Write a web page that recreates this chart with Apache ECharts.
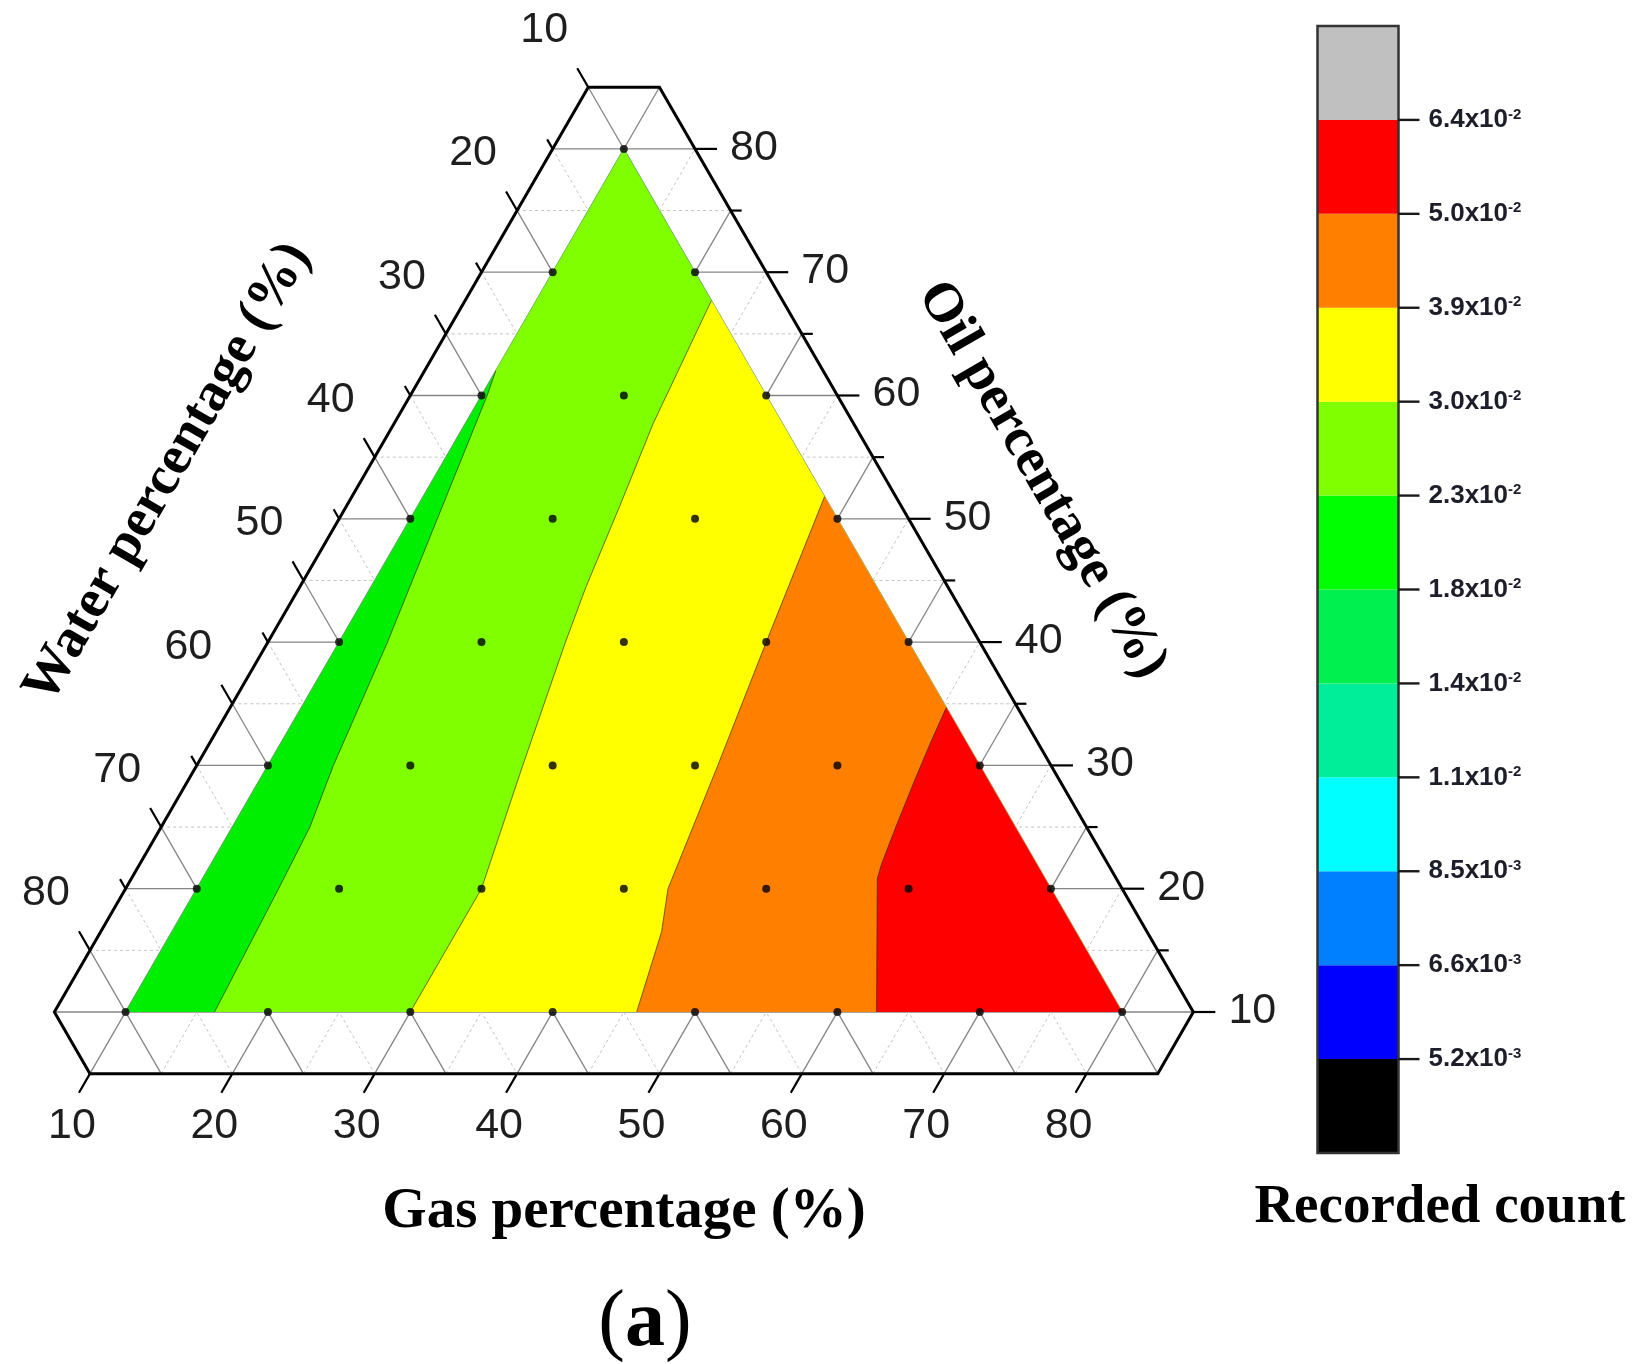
<!DOCTYPE html>
<html><head><meta charset="utf-8">
<script src="https://cdn.jsdelivr.net/npm/echarts@6/dist/echarts.min.js"></script>
<style>html,body{margin:0;padding:0;background:#fff}#c{width:1633px;height:1364px}</style>
</head><body><div id="c"></div>
<script>
// ---------- ternary axes (all values in %) ----------
const majorTicks = [10, 20, 30, 40, 50, 60, 70, 80];
const minorTicks = [15, 25, 35, 45, 55, 65, 75];
const frameMin = 5, frameMax = 85;      // hexagonal frame limits for every component
const dataMin = 10, dataMax = 80;       // sampled triangle
const waterTickLabels = ['10', '20', '30', '40', '50', '60', '70', '80'];
const oilTickLabels = ['10', '20', '30', '40', '50', '60', '70', '80'];
const gasTickLabels = ['10', '20', '30', '40', '50', '60', '70', '80'];

// sample compositions [gas %, oil %]  (water = 100 - gas - oil)
const samplePoints = [
  [10, 80],
  [10, 70], [20, 70],
  [10, 60], [20, 60], [30, 60],
  [10, 50], [20, 50], [30, 50], [40, 50],
  [10, 40], [20, 40], [30, 40], [40, 40], [50, 40],
  [10, 30], [20, 30], [30, 30], [40, 30], [50, 30], [60, 30],
  [10, 20], [20, 20], [30, 20], [40, 20], [50, 20], [60, 20], [70, 20],
  [10, 10], [20, 10], [30, 10], [40, 10], [50, 10], [60, 10], [70, 10], [80, 10]
];

// contour level lines [gas %, oil %]
const contour23 = [[10, 62], [10.4, 60], [11.9, 50], [13.4, 40], [14.6, 30], [15.45, 25], [15.75, 20], [16.25, 10]];   // 2.3e-2
const contour30 = [[22.3, 67.7], [23.2, 57.7], [24.2, 51], [25.1, 44.5], [25.9, 40], [27.9, 30], [30, 20], [30, 10]];  // 3.0e-2
const contour39 = [[38.2, 51.8], [40, 40], [41.6, 30], [43.1, 20], [44.4, 16.5], [45.9, 10]];                         // 3.9e-2
const contour50 = [[55.3, 34.7], [55.6, 32], [56.0, 29], [56.6, 25], [57.1, 22], [57.4, 20.8], [62.75, 10]];          // 5.0e-2
const bandColors = ['#00EE00', '#80FF00', '#FFFF00', '#FF8000', '#FF0000'];

// ---------- colour scale ----------
const levelMantissa = ['5.2', '6.6', '8.5', '1.1', '1.4', '1.8', '2.3', '3.0', '3.9', '5.0', '6.4'];
const levelExponent = ['-3', '-3', '-3', '-2', '-2', '-2', '-2', '-2', '-2', '-2', '-2'];
const levelPositions = [1, 2, 3, 4, 5, 6, 7, 8, 9, 10, 11];
const colorbarColors = ['#000000', '#0000FF', '#0080FF', '#00FFFF', '#00EE99', '#00F050',
  '#00FF00', '#80FF00', '#FFFF00', '#FF8000', '#FF0000', '#C0C0C0'];

// ---------- helpers ----------
const S = Math.sqrt(3) / 2;
function xy(g, o) { return [g + o / 2, o]; }           // ternary -> cartesian data coords
function P(api, g, o) { return api.coord(xy(g, o)); }   // -> pixels through the axes

function layer(items, draw, z) {
  return {
    type: 'custom', coordinateSystem: 'cartesian2d', xAxisIndex: 0, yAxisIndex: 0,
    z: z, silent: true, animation: false,
    data: items.map((_, i) => [i, 0]),
    renderItem: (params, api) => draw(items[params.dataIndex], api)
  };
}

// grid iso-lines (clipped to the hexagon)
const gridSegs = [];
[[majorTicks, true], [minorTicks, false]].forEach(([vals, major]) => {
  vals.forEach(v => {
    gridSegs.push({ a: [frameMin, v], b: [100 - frameMin - v, v], major });          // oil = v
    gridSegs.push({ a: [v, frameMin], b: [v, 100 - frameMin - v], major });          // gas = v
    gridSegs.push({ a: [frameMin, 100 - frameMin - v], b: [100 - frameMin - v, frameMin], major }); // water = v
  });
});

// ticks
const tickItems = [];
majorTicks.forEach(v => {
  tickItems.push({ p: [frameMin, 100 - frameMin - v], d: [-0.5, -S], len: 22 });  // water (left)
  tickItems.push({ p: [100 - frameMin - v, v], d: [1, 0], len: 22 });             // oil (right)
  tickItems.push({ p: [v, frameMin], d: [-0.5, S], len: 22 });                     // gas (bottom)
});
minorTicks.forEach(v => {
  tickItems.push({ p: [frameMin, 100 - frameMin - v], d: [-0.5, -S], len: 11 });
  tickItems.push({ p: [100 - frameMin - v, v], d: [1, 0], len: 11 });
});

// tick labels
const labelItems = [];
majorTicks.forEach((v, i) => {
  labelItems.push({ p: [frameMin, 100 - frameMin - v], off: [-44, -57], t: waterTickLabels[i] });
  labelItems.push({ p: [100 - frameMin - v, v], off: [59, -1], t: oilTickLabels[i] });
  labelItems.push({ p: [v, frameMin], off: [-18, 52], t: gasTickLabels[i] });
});

const inner = 100 - frameMax - frameMin;
const frame = [[frameMin, frameMax], [inner, frameMax], [frameMax, inner], [frameMax, frameMin], [inner, frameMin], [frameMin, inner]];
const A = [dataMin, dataMax], B = [dataMin, dataMin], C = [dataMax, dataMin];
const regions = [
  { pts: [A, B, C], color: bandColors[0] },
  { pts: contour23.concat([C, A]), color: bandColors[1] },
  { pts: contour30.concat([C]), color: bandColors[2] },
  { pts: contour39.concat([C]), color: bandColors[3] },
  { pts: contour50.concat([C]), color: bandColors[4] }
];
const contourLines = [contour23, contour30, contour39, contour50];

const series = [
  layer(gridSegs, (s, api) => {
    const a = P(api, s.a[0], s.a[1]), b = P(api, s.b[0], s.b[1]);
    return { type: 'line', shape: { x1: a[0], y1: a[1], x2: b[0], y2: b[1] },
      style: s.major ? { stroke: '#858585', lineWidth: 1.3 } : { stroke: '#c4c4c4', lineWidth: 1, lineDash: [3, 3] } };
  }, 1),
  layer(regions, (r, api) => ({
    type: 'polygon', shape: { points: r.pts.map(p => P(api, p[0], p[1])) },
    style: { fill: r.color }
  }), 2),
  layer(contourLines, (c, api) => ({
    type: 'polyline', shape: { points: c.map(p => P(api, p[0], p[1])) },
    style: { stroke: 'rgba(40,40,40,0.65)', lineWidth: 1, fill: null }
  }), 3),
  layer([frame], (f, api) => ({
    type: 'polygon', shape: { points: f.map(p => P(api, p[0], p[1])) },
    style: { stroke: '#000', lineWidth: 3, fill: null, lineJoin: 'miter' }
  }), 4),
  layer(tickItems, (t, api) => {
    const a = P(api, t.p[0], t.p[1]);
    return { type: 'line', shape: { x1: a[0], y1: a[1], x2: a[0] + t.d[0] * t.len, y2: a[1] + t.d[1] * t.len },
      style: { stroke: '#000', lineWidth: 2.2 } };
  }, 4),
  layer(labelItems, (l, api) => {
    const a = P(api, l.p[0], l.p[1]);
    return { type: 'text', x: a[0] + l.off[0], y: a[1] + l.off[1],
      style: { text: l.t, fill: '#1e1e1e', fontSize: 43, fontFamily: 'Liberation Sans', align: 'center', verticalAlign: 'middle' } };
  }, 5),
  {
    type: 'scatter', xAxisIndex: 0, yAxisIndex: 0, z: 6, silent: true, animation: false,
    symbol: 'circle', symbolSize: 8, itemStyle: { color: '#000' },
    data: samplePoints.map(p => xy(p[0], p[1]))
  },
  {
    type: 'custom', coordinateSystem: 'cartesian2d', xAxisIndex: 1, yAxisIndex: 1, z: 2, silent: true, animation: false,
    data: colorbarColors.map((_, i) => [0, i]),
    renderItem: (params, api) => {
      const i = params.dataIndex;
      const p0 = api.coord([0, i + 1]), p1 = api.coord([1, i]);
      return { type: 'rect', shape: { x: p0[0], y: p0[1], width: p1[0] - p0[0], height: p1[1] - p0[1] },
        style: { fill: colorbarColors[i] } };
    }
  },
  {
    type: 'custom', coordinateSystem: 'cartesian2d', xAxisIndex: 1, yAxisIndex: 1, z: 3, silent: true, animation: false,
    data: [[0, 0]],
    renderItem: (params, api) => {
      const p0 = api.coord([0, 12]), p1 = api.coord([1, 0]);
      return { type: 'rect', shape: { x: p0[0], y: p0[1], width: p1[0] - p0[0], height: p1[1] - p0[1] },
        style: { fill: null, stroke: '#333', lineWidth: 2.5 } };
    }
  },
  {
    type: 'custom', coordinateSystem: 'cartesian2d', xAxisIndex: 1, yAxisIndex: 1, z: 3, silent: true, animation: false,
    data: levelPositions.map(v => [1, v]),
    renderItem: (params, api) => {
      const p = api.coord([1, levelPositions[params.dataIndex]]);
      return { type: 'line', shape: { x1: p[0], y1: p[1], x2: p[0] + 21, y2: p[1] },
        style: { stroke: '#1a1a1a', lineWidth: 2.4 } };
    }
  }
];

const chart = echarts.init(document.getElementById('c'), null, { renderer: 'canvas' });
chart.setOption({
  animation: false,
  backgroundColor: '#fff',
  grid: [
    { left: 54.37, top: 87.25, width: 1138.96, height: 986.4 },
    { left: 1317.5, top: 26, width: 81, height: 1127 }
  ],
  xAxis: [
    { gridIndex: 0, type: 'value', min: 10, max: 90, show: false },
    { gridIndex: 1, type: 'value', min: 0, max: 1, show: false }
  ],
  yAxis: [
    { gridIndex: 0, type: 'value', min: 5, max: 85, show: false },
    {
      gridIndex: 1, type: 'value', min: 0, max: 12, interval: 1, position: 'right',
      axisLine: { show: false }, splitLine: { show: false }, axisTick: { show: false },
      axisLabel: {
        show: true, margin: 30, customValues: levelPositions,
        formatter: v => '{m|' + levelMantissa[v - 1] + 'x10}{e|' + levelExponent[v - 1] + '}',
        rich: {
          m: { fontSize: 26, fontWeight: 'bold', fontFamily: 'Liberation Sans', color: '#1e1e2a' },
          e: { fontSize: 15, fontWeight: 'bold', fontFamily: 'Liberation Sans', color: '#1e1e2a', verticalAlign: 'top' }
        }
      }
    }
  ],
  graphic: [
    { type: 'text', x: 168, y: 473, rotation: Math.PI / 3, silent: true,
      style: { text: 'Water percentage (%)', fill: '#000', font: 'bold 55px "Liberation Serif"', align: 'center', verticalAlign: 'middle' } },
    { type: 'text', x: 1042, y: 480, rotation: -Math.PI / 3, silent: true,
      style: { text: 'Oil percentage (%)', fill: '#000', font: 'bold 55px "Liberation Serif"', align: 'center', verticalAlign: 'middle' } },
    { type: 'text', x: 624, y: 1212, silent: true,
      style: { text: 'Gas percentage (%)', fill: '#000', font: 'bold 57px "Liberation Serif"', align: 'center', verticalAlign: 'middle' } },
    { type: 'text', x: 1440, y: 1208, silent: true,
      style: { text: 'Recorded count', fill: '#000', font: 'bold 55px "Liberation Serif"', align: 'center', verticalAlign: 'middle' } },
    { type: 'text', x: 645, y: 1324, silent: true,
      style: { text: '{p|(}{a|a}{p|)}', align: 'center', verticalAlign: 'middle',
        rich: { p: { fontSize: 80, fontFamily: 'Liberation Serif', fill: '#000' },
                a: { fontSize: 80, fontWeight: 'bold', fontFamily: 'Liberation Serif', fill: '#000' } } } }
  ],
  series: series
});
</script>
</body></html>
